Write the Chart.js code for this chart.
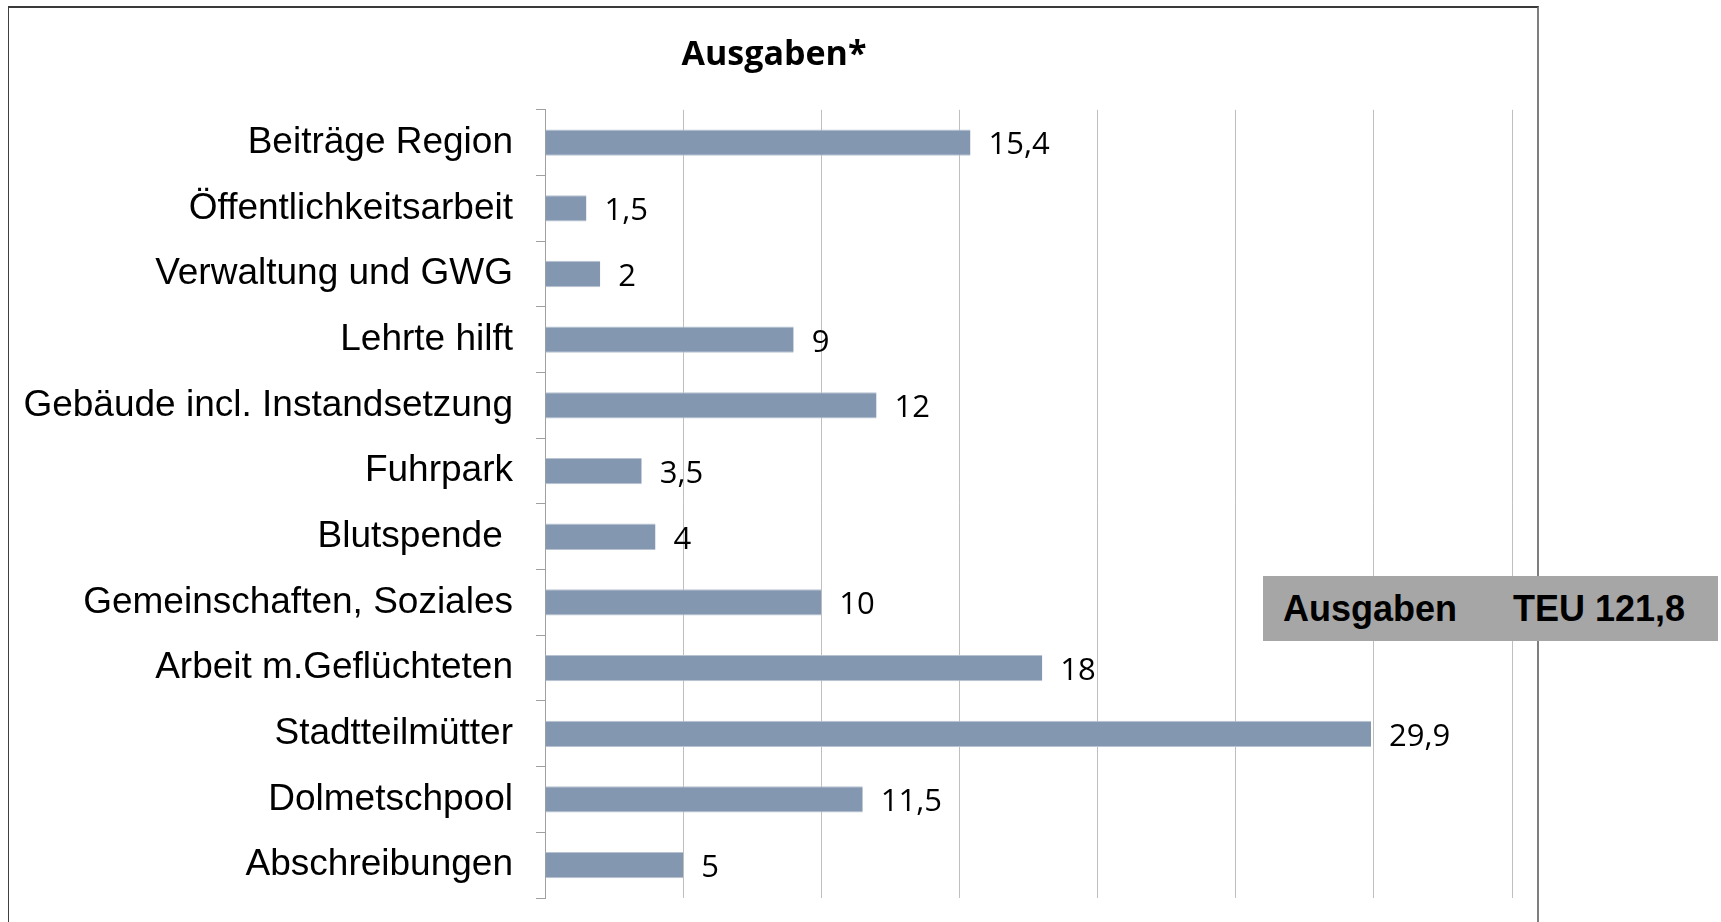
<!DOCTYPE html>
<html>
<head>
<meta charset="utf-8">
<title>Ausgaben</title>
<script src="https://cdn.jsdelivr.net/npm/chart.js@4/dist/chart.umd.min.js"></script>
<style>
  html, body { margin: 0; padding: 0; background: #fff; }
  #wrap { position: relative; width: 1721px; height: 922px; overflow: hidden; }
  #frame {
    position: absolute; left: 8px; top: 6px; width: 1531px; height: 1000px;
    border-left: 1px solid #404040; border-top: 2px solid #3a3a3a;
    border-right: 2px solid #7f7f7f; box-sizing: border-box;
  }
  #chart { position: absolute; left: 0; top: 0; }
  #total {
    position: absolute; left: 1263px; top: 576px; width: 455px; height: 65px;
    background: #a6a6a6; color: #000;
    font: bold 36px "Liberation Sans", Arial, sans-serif;
    line-height: 65px; white-space: pre; box-sizing: border-box; padding-left: 20px;
  }
  #total span { position: absolute; left: 250px; }
</style>
</head>
<body>
<div id="wrap">
  <div id="frame"></div>
  <canvas id="chart" width="1721" height="922"></canvas>
  <div id="total">Ausgaben<span>TEU 121,8</span></div>
</div>
<script>
// categories as listed top to bottom
const categories = [
  'Beiträge Region',
  'Öffentlichkeitsarbeit',
  'Verwaltung und GWG',
  'Lehrte hilft',
  'Gebäude incl. Instandsetzung',
  'Fuhrpark',
  'Blutspende ',
  'Gemeinschaften, Soziales',
  'Arbeit m.Geflüchteten',
  'Stadtteilmütter',
  'Dolmetschpool',
  'Abschreibungen'
];

// TEU
const ausgaben = [15.4, 1.5, 2, 9, 12, 3.5, 4, 10, 18, 29.9, 11.5, 5];

const xMin = 0;
const xMax = 35;
const xStep = 5;

// value labels right of each bar, German decimal comma
const valueLabels = {
  id: 'valueLabels',
  afterLayout(chart) {
    // left padding is only there to centre the title; don't clip long labels to it
    chart.scales.y.left = 0;
  },
  afterDatasetsDraw(chart) {
    const ctx = chart.ctx;
    const meta = chart.getDatasetMeta(0);
    ctx.save();
    ctx.font = '31px "Open Sans", sans-serif';
    ctx.fillStyle = '#000';
    ctx.textAlign = 'left';
    ctx.textBaseline = 'middle';
    meta.data.forEach((bar, i) => {
      const txt = String(ausgaben[i]).replace('.', ',');
      ctx.fillText(txt, bar.x + 18, bar.y + 3);
    });
    ctx.restore();
  }
};

new Chart(document.getElementById('chart').getContext('2d'), {
  type: 'bar',
  data: {
    labels: categories,
    datasets: [{
      data: ausgaben,
      backgroundColor: '#8497b0',
      borderColor: '#b8c3d2',
      borderWidth: { top: 1, bottom: 1, right: 0, left: 0 },
      borderSkipped: false,
      barPercentage: 0.4,
      categoryPercentage: 1
    }]
  },
  options: {
    indexAxis: 'y',
    responsive: false,
    animation: false,
    layout: { padding: { left: 36, right: 209, top: 0, bottom: 24 } },
    plugins: {
      legend: { display: false },
      tooltip: { enabled: false },
      title: {
        display: true,
        text: 'Ausgaben*',
        color: '#000',
        font: { family: '"Open Sans", sans-serif', size: 34, weight: 'bold', lineHeight: 1.2 },
        padding: { top: 35, bottom: 34 }
      }
    },
    scales: {
      x: {
        min: xMin,
        max: xMax,
        afterFit(scale) { scale.height = 0; },
        ticks: { display: false, stepSize: xStep },
        border: { display: false },
        grid: { color: '#bfbfbf', lineWidth: 1, drawTicks: false }
      },
      y: {
        afterFit(scale) {
          scale.width = 509;
          scale.paddingTop = 0;
          scale.paddingBottom = 0;
        },
        ticks: {
          color: '#000',
          padding: 23,
          font: { family: '"Liberation Sans", Arial, sans-serif', size: 37 }
        },
        border: { display: true, color: '#a0a0a0', width: 1 },
        grid: { drawOnChartArea: false, drawTicks: true, tickLength: 9, color: '#a0a0a0', offset: true }
      }
    }
  },
  plugins: [valueLabels]
});
</script>
</body>
</html>
